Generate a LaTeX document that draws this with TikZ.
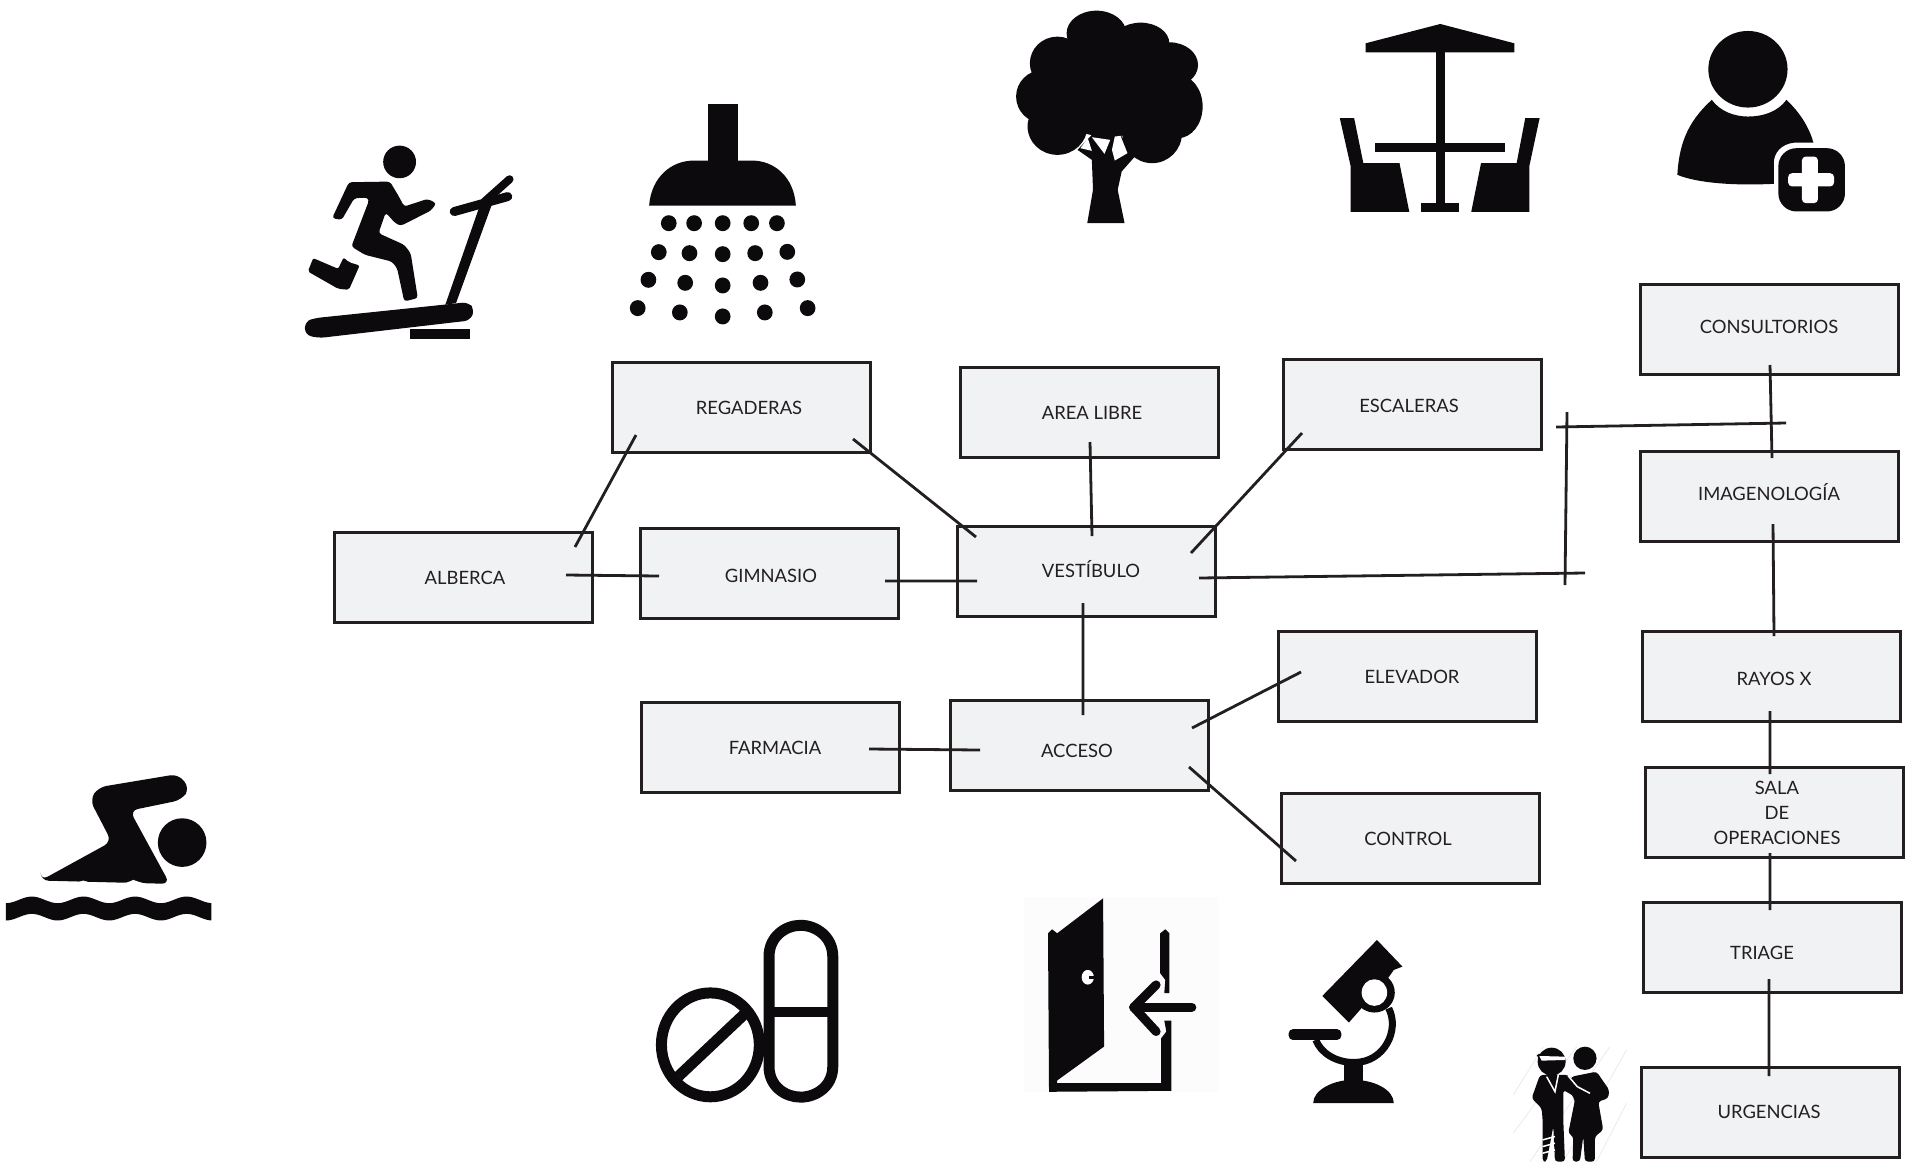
\documentclass[tikz,border=0pt]{standalone}
\usepackage{fontspec}
\setmainfont{Lato}
\usepackage{xcolor}
\usepackage{tikz}
\usetikzlibrary{positioning}
\definecolor{tinta}{HTML}{231F20}
\definecolor{relleno}{HTML}{F1F2F4}
\definecolor{icono}{HTML}{0C0A0D}
\tikzset{caja/.style={rectangle,fill=relleno,draw=tinta,line width=3pt,minimum width=258pt,minimum height=90pt,inner sep=0pt},
         every label/.style={font=\fontsize{18.4}{25}\selectfont,text=tinta,align=center,yshift=-0.5pt},
         linea/.style={draw=tinta,line width=2.8pt},
            }

\begin{document}
\begin{tikzpicture}[x=1pt,y=-1pt]
    \useasboundingbox (0,0) rectangle (1906,1168);

    \node[caja,label={[xshift=5pt,yshift=2pt]center:VESTÍBULO}] (vestibulo) at (1086,571) {};
    \node[caja,label={[xshift=2pt,yshift=-2pt]center:GIMNASIO}] (gimnasio) [left = 56pt of vestibulo,yshift=-2pt] {};
    \node[caja,label={[xshift=2pt]center:ALBERCA}] (alberca) [left = 45pt of gimnasio,yshift=-4pt] {};
    \node[caja,label={[xshift=3pt]center:AREA LIBRE}] (arealibre) [above = 66pt of vestibulo,xshift=3pt] {};
    \node[caja,label={[xshift=8pt]center:REGADERAS}] (regaderas) [left = 87pt of arealibre,yshift=5pt] {};
    \node[caja,label={[xshift=-3pt,yshift=-1pt]center:ESCALERAS}] (escaleras) [right = 62pt of arealibre,yshift=8pt] {};
    \node[caja,label={[xshift=-2pt,yshift=-5pt]center:ACCESO}] (acceso) [below = 81pt of vestibulo,xshift=-7pt] {};
    \node[caja,label={[xshift=5pt]center:FARMACIA}] (farmacia) [left = 48pt of acceso,yshift=-2pt] {};
    \node[caja,label={[xshift=5pt]center:ELEVADOR}] (elevador) [right = 67pt of acceso,yshift=69pt] {};
    \node[caja,label={[xshift=-2pt]center:CONTROL}] (control) [below = 69pt of elevador,xshift=3pt] {};
    \node[caja,label={[yshift=3pt]center:CONSULTORIOS}] (consultorios) [right = 96pt of escaleras,yshift=75pt] {};
    \node[caja,label={[yshift=4pt]center:IMAGENOLOGÍA}] (imagenologia) [below = 74pt of consultorios] {};
    \node[caja,label={[xshift=3pt,yshift=-2pt]center:RAYOS X}] (rayos) [below = 87pt of imagenologia,xshift=2pt] {};
    \node[caja,label={[xshift=3pt]center:SALA\\DE\\OPERACIONES}] (sala) [below = 43pt of rayos,xshift=3pt] {};
    \node[caja,label={[xshift=-10pt,yshift=-5pt]center:TRIAGE}] (triage) [below = 42pt of sala,xshift=-2pt] {};
    \node[caja,label={[xshift=-1pt,yshift=1pt]center:URGENCIAS}] (urgencias) [below = 72pt of triage,xshift=-2pt] {};

    \coordinate (brazo) at (1585,573);
    \coordinate (postearriba) at (1567,412);
    \coordinate (posteabajo) at (1565,585);
    \coordinate (cruceizq) at (1556,427);
    \coordinate (cruceder) at (1786,423);

    \path[linea]
    ([shift={(-105,28)}]regaderas.center) -- ([shift={(112,-30)}]alberca.center)
    ([shift={(112,32)}]regaderas.center) -- ([shift={(-110,-34)}]vestibulo.center)
    ([shift={(1,30)}]arealibre.center) -- ([shift={(6,-35)}]vestibulo.center)
    ([shift={(-110,29)}]escaleras.center) -- ([shift={(105,-18)}]vestibulo.center)
    ([shift={(103,-2)}]alberca.center) -- ([shift={(-110,3)}]gimnasio.center)
    ([shift={(116,8)}]gimnasio.center) -- ([shift={(-109,10)}]vestibulo.center)
    ([shift={(-3,32)}]vestibulo.center) -- ([shift={(4,-30)}]acceso.center)
    ([shift={(99,2)}]farmacia.center) -- ([shift={(-99,5)}]acceso.center)
    ([shift={(113,-17)}]acceso.center) -- ([shift={(-106,-4)}]elevador.center)
    ([shift={(110,22)}]acceso.center) -- ([shift={(-114,23)}]control.center)
    ([shift={(113,7)}]vestibulo.center) -- (brazo)
    (postearriba) -- (posteabajo)
    (cruceizq) -- (cruceder)
    ([shift={(1,36)}]consultorios.center) -- ([shift={(3,-38)}]imagenologia.center)
    ([shift={(4,28)}]imagenologia.center) -- ([shift={(3,-40)}]rayos.center)
    ([shift={(-1,35)}]rayos.center) -- ([shift={(-4,-38)}]sala.center)
    ([shift={(-4,41)}]sala.center) -- ([shift={(-2,-37)}]triage.center)
    ([shift={(-3,32)}]triage.center) -- ([shift={(-1,-36)}]urgencias.center);

    \begin{scope}[shift={(290,90)},x=0.357pt,y=-0.333pt]
        \fill[icono] (307,216) circle [x radius=46,y radius=49];
        \fill[icono,rounded corners=3pt] (165,277) -- (280,275) -- (305,320) -- (320,350) -- (385,327) -- (410,340) -- (395,362) -- (310,408) -- (295,400) -- (268,368) -- (248,430) -- (320,465) -- (338,490) -- (358,625) -- (320,635) -- (300,535) -- (285,515) -- (210,495) -- (172,470) -- (222,330) -- (215,323) -- (180,325) -- (145,390) -- (118,385) -- cycle;
        \fill[icono,rounded corners=2pt] (65,505) -- (135,537) -- (150,503) -- (165,517) -- (195,527) -- (165,600) -- (135,597) -- (50,545) -- cycle;
        \fill[icono,rounded corners=6pt] (70,685) -- (500,637) -- (517,660) -- (505,692) -- (80,745) -- (42,735) -- (42,695) -- cycle;
        \fill[icono] (335,718) rectangle (505,748);
        \fill[icono] (435,645) -- (530,352) -- (565,345) -- (465,640) -- cycle;
        \draw[icono,line width=9pt,line cap=round] (460,365) -- (610,320);
        \draw[icono,line width=8pt,line cap=round] (545,335) -- (615,268);
    \end{scope}

    \begin{scope}[shift={(290,90)},x=0.357pt,y=-0.333pt]
        \fill[icono] (1170,42) rectangle (1254,215);
        \fill[icono] (1006,347) .. controls (1012,260) and (1070,212) .. (1130,212) -- (1295,212) .. controls (1355,212) and (1412,260) .. (1417,347) -- cycle;
        \foreach \px/\py in {1061/400,1132/400,1212/400,1292/400,1364/400,
                             1033/487,1119/490,1212/493,1303/490,1393/486,
                             1004/570,1107/579,1212/587,1318/579,1421/569,
                             974/655,1092/668,1212/680,1330/668,1450/655}
            \fill[icono] (\px,\py) circle [x radius=22,y radius=24];
    \end{scope}

    \begin{scope}[shift={(1000,0)},x=0.574pt,y=-0.333pt]
        \fill[icono] (168,100) circle [x radius=52,y radius=68];
        \fill[icono] (245,130) circle [x radius=50,y radius=62];
        \fill[icono] (295,195) circle [x radius=50,y radius=68];
        \fill[icono] (310,320) circle [x radius=43,y radius=95];
        \fill[icono] (265,400) circle [x radius=52,y radius=90];
        \fill[icono] (100,190) circle [x radius=48,y radius=80];
        \fill[icono] (75,290) circle [x radius=47,y radius=80];
        \fill[icono] (100,380) circle [x radius=52,y radius=85];
        \fill[icono] (190,270) circle [x radius=120,y radius=140];
        \fill[icono] (135,450) -- (160,405) -- (210,405) -- (235,470) -- (212,515) -- (205,570) -- (217,670) -- (152,670) -- (162,570) -- (160,480) -- cycle;
        \fill[white] (153,415) -- (140,445) -- (160,453) -- cycle;
        \fill[white] (160,412) -- (192,420) -- (182,462) -- cycle;
        \fill[white] (200,410) -- (210,408) -- (222,460) -- (200,482) -- (195,450) -- cycle;

        \fill[icono] (767,72) -- (896,130) -- (896,157) -- (637,157) -- (637,130) -- cycle;
        \fill[icono] (759,157) rectangle (776,610);
        \fill[icono] (654,430) rectangle (880,457);
        \fill[icono] (733,610) rectangle (800,638);
        \fill[icono] (592,355) -- (617,355) -- (633,490) -- (696,490) -- (713,636) -- (611,636) -- (611,500) -- cycle;
        \fill[icono] (940,355) -- (915,355) -- (900,490) -- (838,490) -- (821,636) -- (922,636) -- (922,500) -- cycle;

        \fill[icono] (1303,208) circle [x radius=69,y radius=115];
        \fill[icono] (1240,300) .. controls (1255,335) and (1280,350) .. (1303,350) .. controls (1330,350) and (1355,335) .. (1370,300) .. controls (1395,340) and (1410,385) .. (1417,428) -- (1385,428) .. controls (1360,432) and (1348,460) .. (1348,490) -- (1348,552) .. controls (1280,558) and (1215,550) .. (1180,525) .. controls (1183,440) and (1195,370) .. (1240,300) -- cycle;
        \fill[icono,rounded corners=18pt] (1356,445) rectangle (1472,635);
        \fill[white,rounded corners=4pt] (1373,520) rectangle (1453,560);
        \fill[white,rounded corners=4pt] (1397,470) rectangle (1425,610);
    \end{scope}

    \begin{scope}[shift={(640,890)},x=0.51pt,y=-0.333pt]
        \draw[icono,line width=11pt] (138,465) circle [x radius=96,y radius=156];
        \draw[icono,line width=11pt] (75,560) -- (210,365);
        \draw[icono,line width=11pt] (253,200) .. controls (253,140) and (285,106) .. (315,106) .. controls (345,106) and (378,140) .. (378,200) -- (378,530) .. controls (378,590) and (345,622) .. (315,622) .. controls (285,622) and (253,590) .. (253,530) -- cycle;
        \fill[icono] (262,350) rectangle (368,380);

        \fill[black!1] (752,22) rectangle (1133,607);
        \fill[icono] (800,130) -- (808,118) -- (818,130) -- (908,25) -- (910,470) -- (818,572) -- (818,580) -- (1022,580) -- (1022,445) -- (1032,425) -- (1028,392) -- (1042,392) -- (1042,603) -- (802,606) -- cycle;
        \fill[icono] (1020,130) -- (1030,118) -- (1038,130) -- (1038,310) -- (1028,310) -- (1030,270) -- (1020,250) -- cycle;
        \fill[white] (878,262) circle [x radius=12,y radius=22];
        \fill[icono] (880,258) rectangle (895,266);
        \draw[icono,line width=9pt,line cap=round,line join=round] (1012,285) -- (968,352) -- (1012,425);
        \draw[icono,line width=9pt,line cap=round] (968,352) -- (1082,352);

        \fill[icono] (1445,150) -- (1495,230) -- (1478,240) -- (1468,262) -- (1390,398) -- (1338,318) -- cycle;
        \fill[icono] (1440,308) circle [x radius=40,y radius=60];
        \fill[white] (1440,308) circle [x radius=25,y radius=40];
        \draw[icono,line width=7pt] (1468,355) .. controls (1490,420) and (1460,518) .. (1400,518) .. controls (1365,518) and (1335,490) .. (1325,450);
        \fill[icono,rounded corners=4pt] (1272,418) rectangle (1375,450);
        \fill[icono] (1380,515) rectangle (1417,580);
        \fill[icono] (1320,640) .. controls (1320,600) and (1360,570) .. (1398,570) .. controls (1440,570) and (1478,600) .. (1478,640) -- cycle;
    \end{scope}

    \begin{scope}[shift={(0,750)},x=0.333pt,y=-0.333pt]
        \fill[icono] (547,278) circle [radius=73];
        \fill[icono,rounded corners=8pt] (122,392) -- (335,275) -- (270,150) -- (295,112) -- (535,72) -- (570,115) -- (545,150) -- (390,182) -- (510,402) -- (122,392) -- cycle;
        \fill[white] (122,392) .. controls (150,405) and (190,412) .. (250,392) .. controls (285,405) and (360,412) .. (400,390) .. controls (440,405) and (480,412) .. (512,402) -- (512,420) -- (122,420) -- cycle;
        \fill[icono] plot[domain=18:635,samples=60] (\x,{450+10*cos(2.3226*(\x-18))}) -- plot[domain=635:18,samples=60] (\x,{502+10*cos(2.3226*(\x-18))}) -- cycle;
    \end{scope}

    \begin{scope}[shift={(1500,1030)},x=0.333pt,y=-0.333pt]
        \foreach \ax/\ay/\bx/\by in {40/195/130/50,40/310/230/50,90/395/330/50,190/395/380/60,290/395/380/220}
            \draw[black!7,line width=1pt] (\ax,\ay) -- (\bx,\by);
        \fill[icono] (155,95) circle [radius=42];
        \fill[icono] (255,85) circle [radius=35];
        \fill[icono] (110,75) -- (165,55) -- (165,68) -- (125,100) -- cycle;
        \fill[white] (118,78) -- (195,80) -- (195,90) -- (125,92) -- cycle;
        \fill[icono,rounded corners=3pt] (215,140) -- (290,125) -- (328,180) -- (325,205) -- (295,215) -- (310,300) -- (285,320) -- (285,395) -- (255,395) -- (250,320) -- (240,395) -- (218,395) -- (220,320) -- (205,310) -- (225,210) -- (200,170) -- cycle;
        \fill[icono,rounded corners=3pt] (120,135) -- (205,135) -- (225,160) -- (260,190) -- (275,190) -- (275,210) -- (245,212) -- (190,180) -- (190,270) -- (195,395) -- (165,395) -- (160,290) -- (140,395) -- (128,395) -- (128,270) -- (125,235) -- (95,205) -- cycle;
        \draw[white,line width=1.5pt] (205,138) -- (232,170) -- (270,190);
        \draw[white,line width=1.5pt] (140,140) -- (165,185) -- (175,135);
        \draw[white,line width=1.5pt] (128,330) -- (165,320) (128,350) -- (165,340) (128,370) -- (165,360);
    \end{scope}

\end{tikzpicture}
\end{document}
